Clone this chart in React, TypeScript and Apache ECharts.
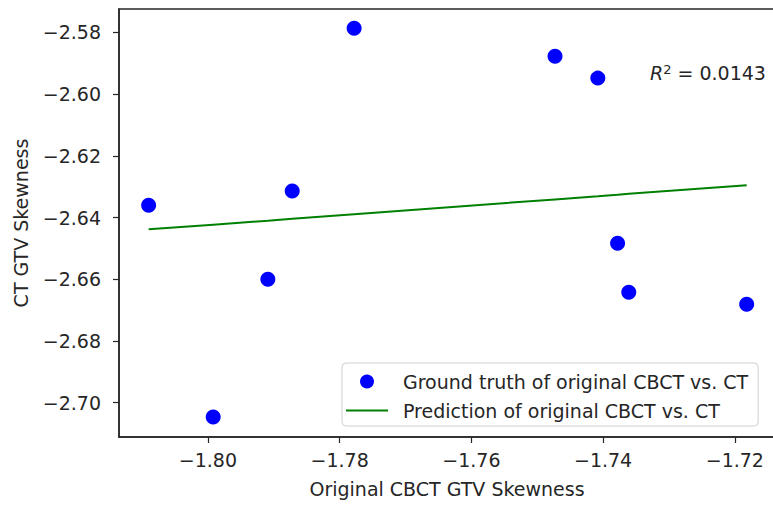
import React, { useEffect, useRef } from "react";
import * as echarts from "echarts";

const groundX = [-1.809, -1.7992, -1.7909, -1.7872, -1.7778, -1.7473, -1.7408, -1.7378, -1.7361, -1.7182];
const groundY = [-2.636, -2.7046, -2.66, -2.6314, -2.5786, -2.5877, -2.5948, -2.6483, -2.6642, -2.6681];
const predX = [-1.809, -1.7992, -1.7909, -1.7872, -1.7778, -1.7473, -1.7408, -1.7378, -1.7361, -1.7182];
const predY = [-2.6438, -2.6423, -2.641, -2.6404, -2.6389, -2.6341, -2.6331, -2.6326, -2.6323, -2.6295];
const xTicks = [-1.8, -1.78, -1.76, -1.74, -1.72];
const yTicks = [-2.7, -2.68, -2.66, -2.64, -2.62, -2.6, -2.58];
const seriesNames = ["Ground truth of original CBCT vs. CT", "Prediction of original CBCT vs. CT"];
const r2Value = "0.0143";

const FONT = "DejaVu Sans";
const fmt = (v: number) => (v < 0 ? "\u2212" : "") + Math.abs(v).toFixed(2);

export default function App() {
  const ref = useRef<HTMLDivElement>(null);
  useEffect(() => {
    if (!ref.current) return;
    const chart = echarts.init(ref.current, null, { renderer: "svg" });
    const axisColor = "#262626";
    const textColor = "#262626";
    chart.setOption({
      animation: false,
      backgroundColor: "#ffffff",
      grid: {
        left: 119,
        top: 9,
        right: -2,
        bottom: 69,
        show: true,
        borderColor: axisColor,
        borderWidth: 1.5,
        outerBoundsMode: "none",
        containLabel: false,
      },
      xAxis: {
        type: "value",
        min: -1.8135,
        max: -1.7139,
        name: "Original CBCT GTV Skewness",
        nameLocation: "middle",
        nameGap: 42,
        nameTextStyle: { fontFamily: FONT, fontSize: 19, color: textColor },
        axisLine: { show: true, lineStyle: { color: axisColor, width: 1.5 } },
        axisTick: { show: true, inside: false, length: 6, customValues: xTicks, lineStyle: { color: axisColor, width: 1.2 } },
        axisLabel: { customValues: xTicks, formatter: fmt, margin: 13, fontFamily: FONT, fontSize: 19, color: textColor },
        splitLine: { show: false },
      },
      yAxis: {
        type: "value",
        min: -2.7111,
        max: -2.5724,
        name: "CT GTV Skewness",
        nameLocation: "middle",
        nameRotate: 90,
        nameGap: 89,
        nameTextStyle: { fontFamily: FONT, fontSize: 19, color: textColor },
        axisLine: { show: true, lineStyle: { color: axisColor, width: 1.5 } },
        axisTick: { show: true, inside: false, length: 6, customValues: yTicks, lineStyle: { color: axisColor, width: 1.2 } },
        axisLabel: { customValues: yTicks, formatter: fmt, margin: 18, fontFamily: FONT, fontSize: 19, color: textColor },
        splitLine: { show: false },
      },
      legend: {
        orient: "vertical",
        left: 342,
        top: 363,
        padding: [9, 10, 6, 4],
        itemGap: 10,
        itemWidth: 42,
        itemHeight: 14,
        backgroundColor: "rgba(255,255,255,0.8)",
        borderColor: "#d0d0d0",
        borderWidth: 1,
        borderRadius: 4,
        textStyle: { fontFamily: FONT, fontSize: 19, color: textColor, padding: [0, 0, 0, 10] },
        data: [
          { name: seriesNames[0], icon: "circle", itemStyle: { color: "#0000ff", opacity: 1 } },
          { name: seriesNames[1], icon: "path://M0,0 L40,0 L40,2 L0,2 Z", itemStyle: { color: "#008000" } },
        ],
      },
      graphic: [
        {
          type: "text",
          left: 650,
          top: 63,
          style: {
            text: "{r|R}{s|2}{t| = " + r2Value + "}",
            rich: {
              r: { fontFamily: FONT, fontSize: 19, fontStyle: "italic", fill: textColor },
              s: { fontFamily: FONT, fontSize: 13, fill: textColor, verticalAlign: "top", lineHeight: 13 },
              t: { fontFamily: FONT, fontSize: 19, fill: textColor },
            },
          },
        },
      ],
      series: [
        {
          name: seriesNames[0],
          type: "scatter",
          symbol: "circle",
          symbolSize: 15,
          itemStyle: { color: "#0000ff", opacity: 1 },
          data: groundX.map((x, i) => [x, groundY[i]]),
          z: 3,
        },
        {
          name: seriesNames[1],
          type: "line",
          symbol: "none",
          lineStyle: { color: "#008000", width: 2 },
          itemStyle: { color: "#008000" },
          data: predX.map((x, i) => [x, predY[i]]),
          z: 2,
        },
      ],
    });
    return () => chart.dispose();
  }, []);
  return <div ref={ref} style={{ width: 773, height: 506, position: "absolute", left: 0, top: 0 }} />;
}
